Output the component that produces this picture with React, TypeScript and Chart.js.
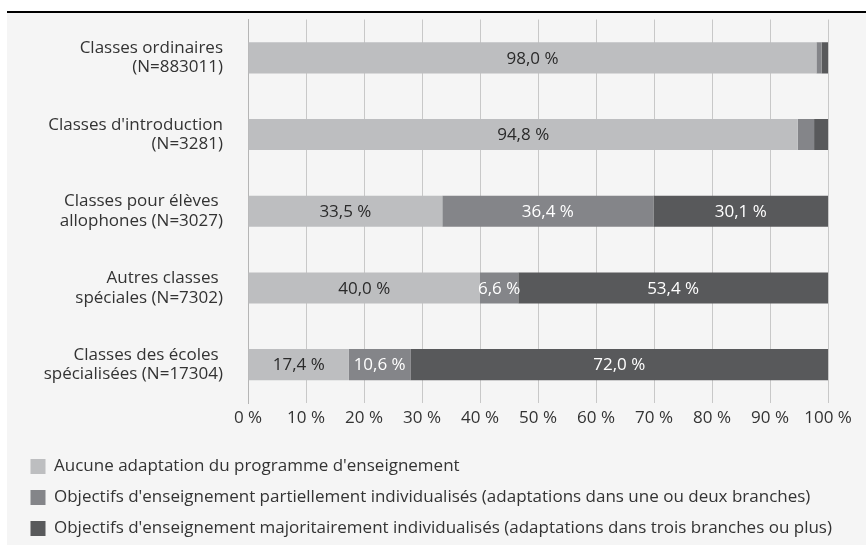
import React, { useEffect, useRef } from "react";
import { Chart, registerables } from "chart.js";

Chart.register(...registerables);

const categories: string[][] = [
  ["Classes ordinaires", "(N=883011)"],
  ["Classes d'introduction", "(N=3281)"],
  ["Classes pour élèves ", "allophones (N=3027)"],
  ["Autres classes ", "spéciales (N=7302)"],
  ["Classes des écoles ", "spécialisées (N=17304)"],
];

const seriesNames = [
  "Aucune adaptation du programme d'enseignement",
  "Objectifs d'enseignement partiellement individualisés (adaptations dans une ou deux branches)",
  "Objectifs d'enseignement majoritairement individualisés (adaptations dans trois branches ou plus)",
];

const noAdaptation = [98.0, 94.8, 33.5, 40.0, 17.4];
const partial = [0.9, 2.8, 36.4, 6.6, 10.6];
const majority = [1.1, 2.4, 30.1, 53.4, 72.0];

const xTicks = [0, 10, 20, 30, 40, 50, 60, 70, 80, 90, 100];

const colors = ["#bdbec0", "#848589", "#58595b"];
const labelColors = ["#2a2a2a", "#ffffff", "#ffffff"];
const FONT = "'Open Sans', 'Noto Sans', sans-serif";
const FS = 17;

const fmt = (v: number) => v.toFixed(1).replace(".", ",") + " %";

const valueLabels = {
  id: "valueLabels",
  afterDatasetsDraw(chart: any) {
    const ctx = chart.ctx;
    ctx.save();
    ctx.font = `${FS}px ${FONT}`;
    ctx.textAlign = "center";
    ctx.textBaseline = "middle";
    chart.data.datasets.forEach((ds: any, di: number) => {
      const meta = chart.getDatasetMeta(di);
      meta.data.forEach((el: any, i: number) => {
        const v = ds.data[i];
        if (v < 5) return;
        const p = el.getProps(["x", "y", "base"], true);
        ctx.fillStyle = labelColors[di];
        ctx.fillText(fmt(v), (p.x + p.base) / 2, p.y + 1);
      });
    });
    ctx.restore();
  },
};

export default function App() {
  const ref = useRef<HTMLCanvasElement>(null);
  useEffect(() => {
    if (!ref.current) return;
    const chart = new Chart(ref.current, {
      type: "bar",
      data: {
        labels: categories,
        datasets: [noAdaptation, partial, majority].map((d, i) => ({
          label: seriesNames[i],
          data: d,
          backgroundColor: colors[i],
          borderWidth: 0,
          categoryPercentage: 1,
          barPercentage: 0.405,
        })),
      },
      options: {
        indexAxis: "y",
        animation: false,
        responsive: false,
        devicePixelRatio: 1,
        layout: { padding: { top: 6.5, right: 0, left: 9.5, bottom: 0 } },
        scales: {
          x: {
            stacked: true,
            min: 0,
            max: 100,
            afterBuildTicks(scale: any) {
              scale.ticks = xTicks.map((v) => ({ value: v }));
            },
            afterFit(scale: any) {
              scale.height = 41;
              scale.paddingLeft = 0;
              scale.paddingRight = 38;
            },
            grid: { color: "#c8c8c8", lineWidth: 1, drawTicks: false },
            border: { display: false },
            ticks: {
              padding: 5,
              color: "#333",
              font: { family: FONT, size: FS },
              callback: (v: any) => v + " %",
            },
          },
          y: {
            stacked: true,
            afterFit(scale: any) {
              scale.width = 231.5;
              scale.paddingTop = 0;
              scale.paddingBottom = 0;
            },
            grid: { display: false, drawTicks: false },
            border: { display: true, color: "#b5b5b5", width: 1 },
            ticks: {
              padding: 25,
              color: "#333",
              font: { family: FONT, size: FS, lineHeight: 1.15 },
            },
          },
        },
        plugins: {
          legend: {
            position: "bottom",
            align: "start",
            labels: {
              boxWidth: 15,
              boxHeight: 15,
              padding: 14,
              color: "#333",
              font: { family: FONT, size: FS },
            },
          },
          tooltip: { enabled: false },
        },
      },
      plugins: [valueLabels],
    } as any);
    return () => chart.destroy();
  }, []);

  return (
    <div style={{ position: "fixed", left: 0, top: 0, width: 866, height: 556, background: "#fff" }}>
      <div style={{ position: "absolute", left: 7, top: 11, width: 859, height: 2, background: "#000" }} />
      <div style={{ position: "absolute", left: 7, top: 13, width: 859, height: 532, background: "#f5f5f5" }} />
      <canvas
        ref={ref}
        width={859}
        height={534}
        style={{ display: "block", position: "absolute", left: 7, top: 13 }}
      />
    </div>
  );
}
